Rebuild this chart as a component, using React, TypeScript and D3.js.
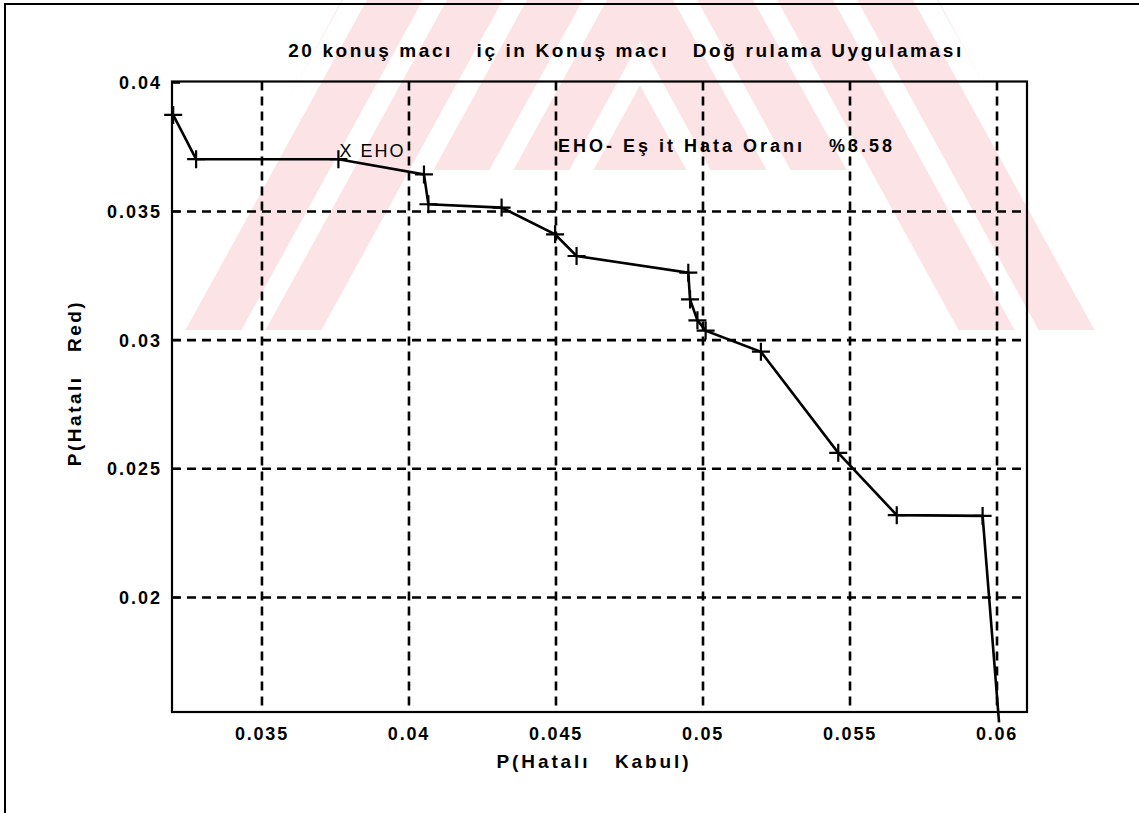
import React from 'react';
import * as d3 from 'd3';

// P(Hatalı Kabul) / P(Hatalı Red) pairs
const FAR = [0.03198, 0.03276, 0.0376, 0.04051, 0.04066, 0.04315, 0.04497, 0.0457, 0.0495, 0.04956, 0.04981, 0.05009, 0.05197, 0.0546, 0.05659, 0.05951, 0.06007];
const FRR = [0.03875, 0.03703, 0.03703, 0.03644, 0.03528, 0.03515, 0.03411, 0.03327, 0.03262, 0.03158, 0.03077, 0.03037, 0.02955, 0.02562, 0.0232, 0.02317, 0.01515];

const X_TICKS = [0.035, 0.04, 0.045, 0.05, 0.055, 0.06];
const Y_TICKS = [0.02, 0.025, 0.03, 0.035, 0.04];
const X_TICK_LABELS = ['0.035', '0.04', '0.045', '0.05', '0.055', '0.06'];
const Y_TICK_LABELS = ['0.02', '0.025', '0.03', '0.035', '0.04'];

const EHO_AT = [0.0376, 0.03703];
const TITLE = '20 konuş macı   iç in Konuş macı   Doğ rulama Uygulaması';
const NOTE = 'EHO- Eş it Hata Oranı   %3.58';

const W = 1139;
const H = 813;
const FONT = '"Liberation Sans", Arial, sans-serif';

export default function App() {
  const left = 172, right = 1027, top = 81.5, bottom = 712;
  const x = d3.scaleLinear().domain([0.03194, 0.06102]).range([left, right]);
  const y = d3.scaleLinear().domain([0.01555, 0.04005]).range([bottom, top]);

  const pts = FAR.map((v, i) => [v, FRR[i]] as [number, number]);
  const line = d3.line<[number, number]>().x(d => x(d[0])).y(d => y(d[1]));

  // faint watermark behind the figure: "/" stripes left of the apex, "\" stripes right of it
  const mid = 640;
  const stripes = d3.range(-300, 700, 80);

  return (
    <svg width={W} height={H} style={{ position: 'absolute', left: 0, top: 0, background: '#fff' }}>
      <defs>
        <clipPath id="wmL">
          <path d={`M 165 330 L 347 -10 L ${mid} -10 L ${mid} 170 L 423 170 L 335 330 Z`} />
        </clipPath>
        <clipPath id="wmR">
          <path d={`M ${2 * mid - 165} 330 L ${2 * mid - 347} -10 L ${mid} -10 L ${mid} 170 L ${2 * mid - 423} 170 L ${2 * mid - 335} 330 Z`} />
        </clipPath>
      </defs>
      <g clipPath="url(#wmL)">
        {stripes.map(s => (
          <path key={s} d={`M ${s} 340 L ${s + 56} 340 L ${s + 250} -13 L ${s + 194} -13 Z`} fill="#fce3e6" />
        ))}
      </g>
      <g clipPath="url(#wmR)">
        {stripes.map(s => (
          <path key={s} d={`M ${2 * mid - s} 340 L ${2 * mid - s - 56} 340 L ${2 * mid - s - 250} -13 L ${2 * mid - s - 194} -13 Z`} fill="#fce3e6" />
        ))}
      </g>

      {/* outer frame */}
      <path d={`M 5 ${H} L 5 4 L ${W} 4`} fill="none" stroke="#000" strokeWidth={2} />

      <text x={626} y={57} textAnchor="middle" fontFamily={FONT} fontWeight="bold" fontSize={19}
        letterSpacing={2.6} style={{ whiteSpace: 'pre' }}>{TITLE}</text>

      {/* grid */}
      {X_TICKS.map(t => (
        <line key={'gx' + t} x1={x(t)} x2={x(t)} y1={top} y2={bottom} stroke="#000" strokeWidth={2.6} strokeDasharray="9,6" />
      ))}
      {Y_TICKS.filter(t => t < 0.04).map(t => (
        <line key={'gy' + t} x1={left} x2={right} y1={y(t)} y2={y(t)} stroke="#000" strokeWidth={2.6} strokeDasharray="9,6" />
      ))}

      <rect x={left} y={top} width={right - left} height={bottom - top} fill="none" stroke="#000" strokeWidth={2.2} />

      {/* ticks */}
      {Y_TICKS.map(t => (
        <line key={'ty' + t} x1={left} x2={left + 8} y1={y(t)} y2={y(t)} stroke="#000" strokeWidth={2} />
      ))}

      {X_TICKS.map((t, i) => (
        <text key={'lx' + t} x={x(t)} y={740} textAnchor="middle" fontFamily={FONT} fontWeight="bold"
          fontSize={18} letterSpacing={1.8}>{X_TICK_LABELS[i]}</text>
      ))}
      {Y_TICKS.map((t, i) => (
        <text key={'ly' + t} x={162} y={y(t)} dy="0.36em" textAnchor="end" fontFamily={FONT} fontWeight="bold"
          fontSize={18} letterSpacing={2}>{Y_TICK_LABELS[i]}</text>
      ))}

      <text x={594} y={768} textAnchor="middle" fontFamily={FONT} fontWeight="bold" fontSize={19}
        letterSpacing={2.9} style={{ whiteSpace: 'pre' }}>P(Hatalı   Kabul)</text>
      <text transform="translate(81,383) rotate(-90)" textAnchor="middle" fontFamily={FONT} fontWeight="bold"
        fontSize={19} letterSpacing={2.5} style={{ whiteSpace: 'pre' }}>P(Hatalı   Red)</text>

      {/* curve */}
      <path d={line(pts) || ''} fill="none" stroke="#000" strokeWidth={2.6} />
      {pts.filter(p => p[1] >= y.domain()[0]).map((p, i) => (
        <path key={'m' + i} d={`M ${x(p[0]) - 9} ${y(p[1])} h 18 M ${x(p[0])} ${y(p[1]) - 9} v 18`}
          stroke="#000" strokeWidth={2.2} />
      ))}

      <text x={x(EHO_AT[0]) + 1} y={y(EHO_AT[1]) - 2} fontFamily={FONT} fontSize={18} letterSpacing={2}>X EHO</text>
      <text x={558} y={152} fontFamily={FONT} fontWeight="bold" fontSize={18} letterSpacing={3}
        style={{ whiteSpace: 'pre' }}>{NOTE}</text>
    </svg>
  );
}
